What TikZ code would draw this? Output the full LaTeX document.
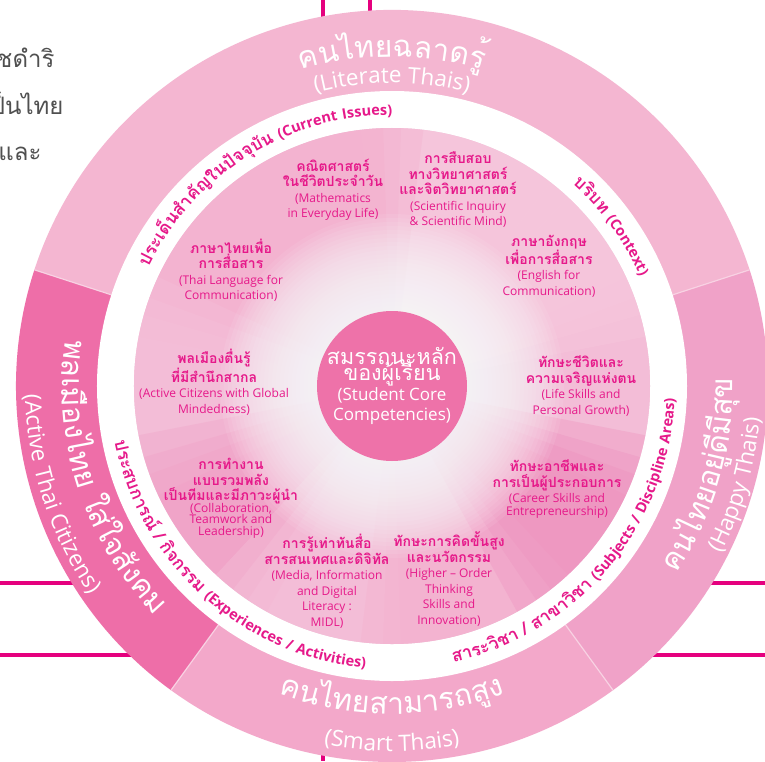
\documentclass[tikz,border=0pt]{standalone}
\usepackage{fontspec}
\setmainfont{Open Sans}
\newfontfamily\thaifont[Script=Thai]{Loma}
\newfontfamily\bandfont[LetterSpace=8]{Open Sans}
\usetikzlibrary{decorations.text}

\definecolor{magline}{HTML}{E5007E}
\definecolor{ringtop}{HTML}{F4B6D1}
\definecolor{ringleft}{HTML}{EE6EA8}
\definecolor{ringbottom}{HTML}{F3A8CA}
\definecolor{ringright}{HTML}{F0A2C8}
\definecolor{ringsep}{HTML}{F8D2E3}
\definecolor{labelpink}{HTML}{E6198A}
\definecolor{corepink}{HTML}{EE72A9}
\definecolor{graytext}{HTML}{505050}
\definecolor{wedgeB}{HTML}{F7CBDF}
\definecolor{wedgeC}{HTML}{F5C0D9}
\definecolor{wedgeD}{HTML}{F3B3D0}
\definecolor{wedgeE}{HTML}{F0A3C8}
\definecolor{wedgeF}{HTML}{EE93BF}

\newcommand\ringthai{\thaifont\fontsize{30}{30}\selectfont\color{white}}
\newcommand\ringeng{\fontsize{22.5}{22.5}\selectfont\color{white}}
\newcommand\bandthai{\thaifont\bfseries\fontsize{17.5}{17.5}\selectfont\color{labelpink}}
\newcommand\bandeng{\bandfont\bfseries\fontsize{14.5}{14.5}\selectfont\color{labelpink}}
\newcommand\labelthai{\thaifont\bfseries\fontsize{14}{15.5}\selectfont}
\newcommand\corethai{\thaifont\fontsize{21.5}{21.5}\selectfont}

\begin{document}
\begin{tikzpicture}[x=1pt, y=1pt,
  lbl/.style={align=center, text=labelpink, inner sep=0pt, font=\fontsize{12}{15.5}\selectfont},
  arctext/.style={decorate, decoration={text along path, text align=center, text={#1}}},
  guide/.style={draw=magline, line width=4.5pt},
  sep/.style={draw=ringsep, line width=1.2pt}]

	% page
	\useasboundingbox[fill=white] (-392,-375) rectangle (373,386);

	% guide lines behind the wheel
	\coordinate (gl1) at (-392,-197);
	\coordinate (gr1) at (373,-197);
	\coordinate (gl2) at (-392,-269);
	\coordinate (gr2) at (373,-269);
	\coordinate (gt1) at (-69,386);
	\coordinate (gb1) at (-69,-375);
	\coordinate (gt2) at (-22,386);
	\coordinate (gb2) at (-22,-375);
	\draw[guide] (gl1) -- (gr1);
	\draw[guide] (gl2) -- (gr2);
	\draw[guide] (gt1) -- (gb1);
	\draw[guide] (gt2) -- (gb2);

	% text cut off at the left edge
	\node[anchor=base east, text=graytext, font=\thaifont\fontsize{24}{24}\selectfont] (txt1) at (-334,318) {าชดำริ};
	\node[anchor=base east, text=graytext, font=\thaifont\fontsize{24}{24}\selectfont] (txt2) at (-325,271) {ป็นไทย};
	\node[anchor=base east, text=graytext, font=\thaifont\fontsize{24}{24}\selectfont] (txt3) at (-347,226) {ยและ};

	% outer ring
	\fill[ringtop] (0,0) -- (18:376) arc[start angle=18, end angle=162, radius=376] -- cycle;
	\fill[ringleft] (0,0) -- (162:376) arc[start angle=162, end angle=234, radius=376] -- cycle;
	\fill[ringbottom] (0,0) -- (234:376) arc[start angle=234, end angle=306, radius=376] -- cycle;
	\fill[ringright] (0,0) -- (306:376) arc[start angle=306, end angle=378, radius=376] -- cycle;
	\foreach \a in {18,162,234,306}
		\draw[sep] (\a:295) -- (\a:376);
	\fill[white] (0,0) circle (295);

	% inner disc, soft wedges
	\fill[wedgeD] (0,0) circle (258);
	\foreach \a/\c in {0/wedgeC, 36/wedgeB, 72/wedgeB, 108/wedgeD, 144/wedgeD,
	                   180/wedgeC, 216/wedgeE, 252/wedgeC, 288/wedgeD, 324/wedgeF}
		\foreach \d in {-7,-2,2,7}
			\fill[\c, opacity=0.35] (0,0) -- ({\a-18-\d}:258) arc[start angle=\a-18-\d, end angle=\a+18+\d, radius=258] -- cycle;
	\foreach \r in {76,80,...,172}
		\fill[white, opacity=0.08] (0,0) circle (\r);
	\fill[corepink] (0,0) circle (75);

	\node[align=center, text=white, font=\fontsize{17}{20}\selectfont] (core) at (0,0)
		{{\corethai สมรรถนะหลัก}\\[-4pt]{\corethai ของผู้เรียน}\\[0pt](Student Core\\Competencies)};

	% competencies
	\node[lbl] (math) at (-59,196) {{\labelthai คณิตศาสตร์}\\{\labelthai ในชีวิตประจำวัน}\\(Mathematics\\in Everyday Life)};
	\node[lbl] (science) at (66,196) {{\labelthai การสืบสอบ}\\{\labelthai ทางวิทยาศาสตร์}\\{\labelthai และจิตวิทยาศาสตร์}\\(Scientific Inquiry\\\& Scientific Mind)};
	\node[lbl] (english) at (157,120) {{\labelthai ภาษาอังกฤษ}\\{\labelthai เพื่อการสื่อสาร}\\(English for\\Communication)};
	\node[lbl] (life) at (189,0) {{\labelthai ทักษะชีวิตและ}\\{\labelthai ความเจริญแห่งตน}\\(Life Skills and\\Personal Growth)};
	\node[lbl] (career) at (165,-103) {{\labelthai ทักษะอาชีพและ}\\{\labelthai การเป็นผู้ประกอบการ}\\(Career Skills and\\[-3pt]Entrepreneurship)};
	\node[lbl] (thinking) at (57,-193) {{\labelthai ทักษะการคิดขั้นสูง}\\{\labelthai และนวัตกรรม}\\(Higher – Order\\Thinking\\Skills and\\Innovation)};
	\node[lbl] (media) at (-65,-195) {{\labelthai การรู้เท่าทันสื่อ}\\{\labelthai สารสนเทศและดิจิทัล}\\(Media, Information\\and Digital\\Literacy :\\MIDL)};
	\node[lbl] (team) at (-161,-112) {{\labelthai การทำงาน}\\{\labelthai แบบรวมพลัง}\\{\labelthai เป็นทีมและมีภาวะผู้นำ}\\[-4pt](Collaboration,\\[-4pt]Teamwork and\\[-4pt]Leadership)};
	\node[lbl] (citizen) at (-178,4) {{\labelthai พลเมืองตื่นรู้}\\{\labelthai ที่มีสำนึกสากล}\\(Active Citizens with Global\\Mindedness)};
	\node[lbl] (thai) at (-161,116) {{\labelthai ภาษาไทยเพื่อ}\\{\labelthai การสื่อสาร}\\(Thai Language for\\Communication)};

	% white band
	\path[arctext={|\bandthai|{ป}{ร}{ะ}{เ}{ด็}{น}{สำ}{คั}{ญ}{ใ}{น}{ปั}{จ}{จุ}{บั}{น} |\bandeng|(Current Issues)}]
		(200:271) arc[start angle=200, end angle=44, radius=271];
	\path[arctext={|\bandthai|{บ}{ริ}{บ}{ท} |\bandeng|(Context)}]
		(114:271) arc[start angle=114, end angle=-42, radius=271];
	\path[arctext={|\bandthai|{ป}{ร}{ะ}{ส}{บ}{ก}{า}{ร}{ณ์} / {กิ}{จ}{ก}{ร}{ร}{ม} |\bandeng|(Experiences / Activities)}]
		(150:283) arc[start angle=150, end angle=306, radius=283];
	\path[arctext={|\bandthai|{ส}{า}{ร}{ะ}{วิ}{ช}{า} / {ส}{า}{ข}{า}{วิ}{ช}{า} |\bandeng|(Subjects / Discipline Areas)}]
		(242:283) arc[start angle=242, end angle=398, radius=283];

	% outer ring titles
	\path[arctext={|\ringthai|{ค}{น}{ไ}{ท}{ย}{ฉ}{ล}{า}{ด}{รู้}}]
		(170:329) arc[start angle=170, end angle=10, radius=329];
	\path[arctext={|\ringeng|(Literate Thais)}]
		(170:303) arc[start angle=170, end angle=10, radius=303];
	\path[arctext={|\ringthai|{พ}{ล}{เ}{มื}{อ}{ง}{ไ}{ท}{ย} {ใ}{ส่}{ใ}{จ}{สั}{ง}{ค}{ม}}]
		(118:330) arc[start angle=118, end angle=278, radius=330];
	\path[arctext={|\ringeng|(Active Thai Citizens)}]
		(118:367) arc[start angle=118, end angle=278, radius=367];
	\path[arctext={|\ringthai|{ค}{น}{ไ}{ท}{ย}{ส}{า}{ม}{า}{ร}{ถ}{สู}{ง}}]
		(190:328) arc[start angle=190, end angle=350, radius=328];
	\path[arctext={|\ringeng|(Smart Thais)}]
		(190:365) arc[start angle=190, end angle=350, radius=365];
	\path[arctext={|\ringthai|{ค}{น}{ไ}{ท}{ย}{อ}{ยู่}{ดี}{มี}{สุ}{ข}}]
		(-96:341) arc[start angle=-96, end angle=64, radius=341];
	\path[arctext={|\ringeng|(Happy Thais)}]
		(-96:369) arc[start angle=-96, end angle=64, radius=369];

\end{tikzpicture}
\end{document}
